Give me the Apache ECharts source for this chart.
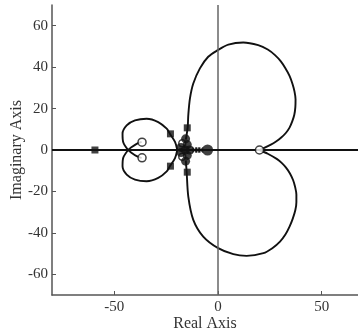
<!DOCTYPE html>
<html><head><meta charset="utf-8">
<script src="https://cdn.jsdelivr.net/npm/echarts@6/dist/echarts.min.js"></script>
<style>html,body{margin:0;padding:0;background:#fff}#c{width:358px;height:331px}</style>
</head><body><div id="c"></div>
<script>
// Root locus branches [real, imag]
var bigLoopUpper = [[-15.5,5],[-14.6,10.9],[-14.3,16.9],[-13.5,24.9],[-11.9,32.1],[-8.7,39.4],[-4.7,45.0],[-0.1,48.2],[5.0,50.9],[12.2,51.9],[19.4,50.6],[24,48.5],[27.5,45.8],[30.3,42.8],[32.5,39.5],[34.5,35.8],[35.9,32],[36.9,28.2],[37.4,24.5],[37.3,20.7],[36.8,17],[35.8,13.8],[34.5,10.8],[32.7,8.2],[30.5,6],[28,4.1],[25.5,2.6],[20,0]];
var bigLoopLower = [[-15.5,-5],[-15.1,-10.5],[-14.3,-22.5],[-11.9,-33.7],[-7.1,-41.8],[0.1,-47.4],[7.4,-50.3],[13.8,-51.1],[21.9,-49.8],[26.2,-47.4],[29.9,-44.2],[32.5,-40.8],[34.5,-37],[36.1,-33],[37.3,-29],[37.8,-25.2],[37.8,-21.5],[37.2,-17.9],[36.2,-14.5],[34.7,-11.3],[32.8,-8.5],[30.7,-6.2],[28.5,-4.4],[24,-1.8],[20,0]];
var leftLobeUpper = [[-19.6,0],[-20.7,3.9],[-23.2,7.9],[-24.7,10.3],[-28.8,13.5],[-34.4,15.1],[-40,14.3],[-44,11.9],[-46,7.9],[-45.7,3.9],[-43.3,0]];
var leftLobeLower = [[-19.6,0],[-20.7,-3.9],[-23.2,-7.9],[-24.7,-10.3],[-28.8,-13.5],[-34.4,-15.1],[-40,-14.3],[-44,-11.9],[-46,-7.9],[-45.7,-3.9],[-43.3,0]];
var hookUpper = [[-43.3,0],[-41.6,1.4],[-39.2,3],[-36.8,3.9]];
var hookLower = [[-43.3,0],[-41.6,-1.4],[-39.2,-3],[-36.8,-3.9]];
var gainSquares = [[-59.3,0],[-22.9,7.8],[-22.9,-7.8],[-14.8,10.7],[-14.8,-10.7]];
var zeros = [[20,0],[-36.6,3.8],[-36.6,-3.8]];
var innerZeros = [[-17.2,3.2],[-17.2,-3.2]];
var clusterDots = [[-15.6,5.4],[-15.6,-5.4],[-14.8,2.6],[-14.8,-2.6],[-17.8,1.2],[-17.8,-1.2],[-13.6,0],[-15.8,0]];
var crossMarks = [[-11.2,0],[-9.7,0],[-8.3,0]];
var bigPole = [[-5,0]];
var xTicks = [-50, 0, 50];
var yTicks = [-60, -40, -20, 0, 20, 40, 60];

var font = 'Liberation Serif, Times New Roman, serif';
function line(d){return {type:'line',data:d,showSymbol:false,symbol:'none',smooth:0.3,smoothConstraint:false,lineStyle:{color:'#111',width:1.9},z:3,animation:false};}
var chart = echarts.init(document.getElementById('c'));
chart.setOption({
  animation:false,
  grid:{left:52,right:0,top:5,bottom:36,containLabel:false,outerBoundsMode:'none'},
  xAxis:{type:'value',min:-80,max:67.5,
    name:'Real Axis',nameLocation:'middle',nameGap:21,nameMoveOverlap:false,
    nameTextStyle:{fontFamily:font,fontSize:16,color:'#333',verticalAlign:'top',lineHeight:16},
    axisLine:{onZero:false,lineStyle:{color:'#555',width:1.5}},
    axisTick:{inside:true,length:4,customValues:xTicks,lineStyle:{color:'#555'}},
    axisLabel:{customValues:xTicks,fontFamily:font,fontSize:15,color:'#333',margin:5},
    splitLine:{show:false}},
  yAxis:{type:'value',min:-70,max:70,
    name:'Imaginary Axis',nameLocation:'middle',nameGap:27,nameMoveOverlap:false,
    nameTextStyle:{fontFamily:font,fontSize:16,color:'#333'},
    axisLine:{onZero:false,lineStyle:{color:'#555',width:1.5}},
    axisTick:{inside:true,length:4,customValues:yTicks,lineStyle:{color:'#555'}},
    axisLabel:{customValues:yTicks,fontFamily:font,fontSize:15,color:'#333',margin:4},
    splitLine:{show:false}},
  series:[
    {type:'line',data:[],markLine:{silent:true,symbol:'none',label:{show:false},
      data:[{xAxis:0,lineStyle:{color:'#666',width:1.5,type:'solid'}},
            {yAxis:0,lineStyle:{color:'#111',width:2,type:'solid'}}]},z:2},
    line(bigLoopUpper),line(bigLoopLower),line(leftLobeUpper),line(leftLobeLower),line(hookUpper),line(hookLower),
    {type:'scatter',data:innerZeros,symbol:'circle',symbolSize:7,itemStyle:{color:'#fff',borderColor:'#111',borderWidth:1.5},z:4},
    {type:'scatter',data:clusterDots,symbol:'circle',symbolSize:9,itemStyle:{color:'#111'},z:5},
    {type:'scatter',data:bigPole,symbol:'circle',symbolSize:11,itemStyle:{color:'#111'},z:5},
    {type:'scatter',data:crossMarks,symbol:'path://M0,0L10,10M10,0L0,10',symbolSize:5,itemStyle:{color:'none',borderColor:'#111',borderWidth:1.5},z:5},
    {type:'scatter',data:gainSquares,symbol:'rect',symbolSize:7,itemStyle:{color:'#111'},z:6},
    {type:'scatter',data:zeros,symbol:'circle',symbolSize:8,itemStyle:{color:'#fff',borderColor:'#111',borderWidth:1.5},z:7}
  ]
});
</script></body></html>
